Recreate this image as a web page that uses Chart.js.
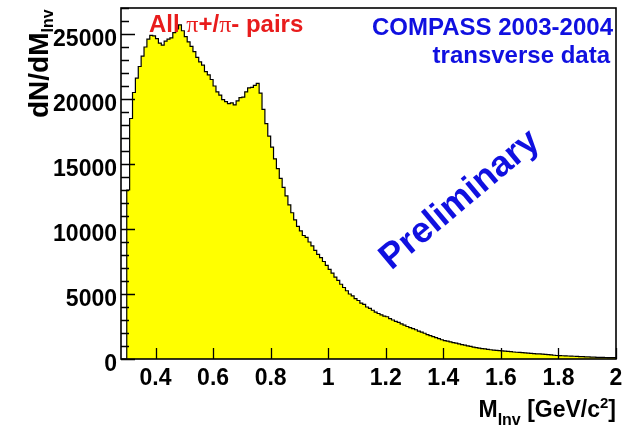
<!DOCTYPE html>
<html>
<head>
<meta charset="utf-8">
<title>Invariant mass of pion pairs</title>
<script src="https://cdn.jsdelivr.net/npm/chart.js@4.4.1/dist/chart.umd.min.js"></script>
<style>
  html, body { margin: 0; padding: 0; background: #fff; }
  #wrap { width: 625px; height: 427px; }
</style>
</head>
<body>
<div id="wrap"><canvas id="chart" width="625" height="427"></canvas></div>
<script>
// histogram binning (GeV/c^2)
const binStart = 0.28;
const binWidth = 0.01;
const xMin = 0.28;
const xMax = 2.0;
const yMax = 27000;

// entries per bin, starting at 0.28
const counts = [
  0, 0, 13000, 18500, 20500, 21600, 22500, 23300, 24000, 24600,
  24900, 24850, 24650, 24300, 24150, 24450, 24600, 24700, 25100, 25400,
  25700, 25250, 24800, 24400, 24050, 23650, 23200, 22850, 22600, 22100,
  21850, 21500, 21000, 20550, 20300, 19950, 19800, 19650, 19700, 19550,
  19850, 20100, 20150, 20550, 20850, 20900, 21050, 21200, 20450, 19200,
  18100, 17150, 16300, 15400, 14650, 13900, 13200, 12550, 11850, 11250,
  10700, 10200, 9850, 9500, 9350, 9000, 8700, 8350, 8050, 7800,
  7500, 7200, 6900, 6600, 6300, 6050, 5750, 5500, 5250, 5000,
  4850, 4650, 4500, 4300, 4200, 4000, 3900, 3750, 3600, 3500,
  3400, 3300, 3250, 3100, 3000, 2900, 2820, 2700, 2600, 2500,
  2420, 2330, 2250, 2150, 2060, 1980, 1880, 1800, 1720, 1640,
  1560, 1480, 1420, 1370, 1320, 1260, 1220, 1170, 1110, 1060,
  1010, 970, 920, 880, 840, 800, 780, 740, 710, 680,
  660, 640, 620, 600, 580, 560, 540, 520, 510, 490,
  470, 450, 430, 420, 400, 390, 370, 350, 330, 310,
  290, 270, 260, 250, 240, 230, 220, 210, 200, 190,
  180, 170, 160, 150, 140, 130, 125, 120, 115, 110,
  105, 100
];

const xTickValues = [0.4, 0.6, 0.8, 1.0, 1.2, 1.4, 1.6, 1.8, 2.0];
const xTickLabels = ["0.4", "0.6", "0.8", "1", "1.2", "1.4", "1.6", "1.8", "2"];
const yTickValues = [0, 5000, 10000, 15000, 20000, 25000];
const yTickLabels = ["0", "5000", "10000", "15000", "20000", "25000"];
const yMinorStep = 1000;

// lower bin edges plus a closing point at the upper edge of the last bin
const histPoints = counts.map((c, i) => ({ x: binStart + i * binWidth, y: c }));
histPoints.push({ x: binStart + counts.length * binWidth, y: counts[counts.length - 1] });

const SANS = '"Liberation Sans", Arial, sans-serif';
const SERIF = '"Liberation Serif", "Times New Roman", serif';

// draws pieces of text one after another, each with its own font / offset
function drawRun(ctx, x, y, parts) {
  let cx = x;
  parts.forEach((p) => {
    ctx.font = p.font;
    ctx.fillText(p.text, cx, y + (p.dy || 0));
    cx += ctx.measureText(p.text).width;
  });
  return cx;
}

function runWidth(ctx, parts) {
  let w = 0;
  parts.forEach((p) => {
    ctx.font = p.font;
    w += ctx.measureText(p.text).width;
  });
  return w;
}

// frame, inward ticks, labels and annotations in ROOT style
const rootFrame = {
  id: "rootFrame",
  afterDatasetsDraw(chart) {
    const ctx = chart.ctx;
    const area = chart.chartArea;
    const xs = chart.scales.x;
    const ys = chart.scales.y;

    ctx.save();
    ctx.strokeStyle = "#000";

    // tick marks
    ctx.lineWidth = 1.3;
    ctx.beginPath();
    for (let v = 0; v <= yMax; v += yMinorStep) {
      const py = Math.round(ys.getPixelForValue(v)) + 0.5;
      const len = v % 5000 === 0 ? 14 : 8;
      ctx.moveTo(area.left, py);
      ctx.lineTo(area.left + len, py);
    }
    xTickValues.forEach((v) => {
      const px = Math.round(xs.getPixelForValue(v)) + 0.5;
      ctx.moveTo(px, area.bottom);
      ctx.lineTo(px, area.bottom - 11);
    });
    ctx.stroke();

    // frame
    ctx.lineWidth = 1.6;
    ctx.strokeRect(area.left, area.top, area.right - area.left, area.bottom - area.top);

    // tick labels
    ctx.fillStyle = "#000";
    ctx.font = "bold 23px " + SANS;
    ctx.textBaseline = "alphabetic";
    ctx.textAlign = "right";
    yTickValues.forEach((v, i) => {
      const py = ys.getPixelForValue(v);
      ctx.fillText(yTickLabels[i], area.left - 4, py + 11.5);
    });
    ctx.textAlign = "center";
    xTickValues.forEach((v, i) => {
      const px = xs.getPixelForValue(v);
      ctx.fillText(xTickLabels[i], px, area.bottom + 26);
    });

    // x axis title, right aligned to the frame
    ctx.textAlign = "left";
    const xTitle = [
      { text: "M", font: "bold 23px " + SANS },
      { text: "Inv", font: "bold 16px " + SANS, dy: 8 },
      { text: " [GeV/c", font: "bold 23px " + SANS },
      { text: "2", font: "bold 15px " + SANS, dy: -9 },
      { text: "]", font: "bold 23px " + SANS }
    ];
    drawRun(ctx, area.right - runWidth(ctx, xTitle), 417, xTitle);

    // y axis title, rotated
    const yTitle = [
      { text: "dN/dM", font: "bold 28px " + SANS },
      { text: "Inv", font: "bold 16px " + SANS, dy: 5 }
    ];
    ctx.save();
    ctx.translate(48, 118);
    ctx.rotate(-Math.PI / 2);
    drawRun(ctx, 0, 0, yTitle);
    ctx.restore();

    // red label
    ctx.fillStyle = "#e81c1c";
    drawRun(ctx, 149, 32, [
      { text: "All ", font: "bold 24px " + SANS },
      { text: "\u03c0", font: "24px " + SERIF },
      { text: "+/", font: "bold 24px " + SANS },
      { text: "\u03c0", font: "24px " + SERIF },
      { text: "- pairs", font: "bold 24px " + SANS }
    ]);

    // blue labels
    ctx.fillStyle = "#1010e0";
    ctx.textAlign = "right";
    ctx.font = "bold 24px " + SANS;
    ctx.fillText("COMPASS 2003-2004", 613, 35);
    ctx.fillText("transverse data", 610, 63);

    ctx.save();
    ctx.translate(460, 200);
    ctx.rotate(-40 * Math.PI / 180);
    ctx.textAlign = "center";
    ctx.textBaseline = "middle";
    ctx.font = "bold 36px " + SANS;
    ctx.fillText("Preliminary", 0, 0);
    ctx.restore();

    ctx.restore();
  }
};

new Chart(document.getElementById("chart"), {
  type: "line",
  data: {
    datasets: [
      {
        data: histPoints,
        stepped: "before",
        fill: "origin",
        backgroundColor: "#ffff00",
        borderColor: "#000",
        borderWidth: 1.2,
        pointRadius: 0,
        tension: 0
      }
    ]
  },
  options: {
    responsive: false,
    animation: false,
    events: [],
    layout: { padding: { left: 121, top: 8, right: 9, bottom: 68 } },
    scales: {
      x: { type: "linear", min: xMin, max: xMax, display: false },
      y: { type: "linear", min: 0, max: yMax, display: false }
    },
    plugins: {
      legend: { display: false },
      tooltip: { enabled: false }
    }
  },
  plugins: [rootFrame]
});
</script>
</body>
</html>
